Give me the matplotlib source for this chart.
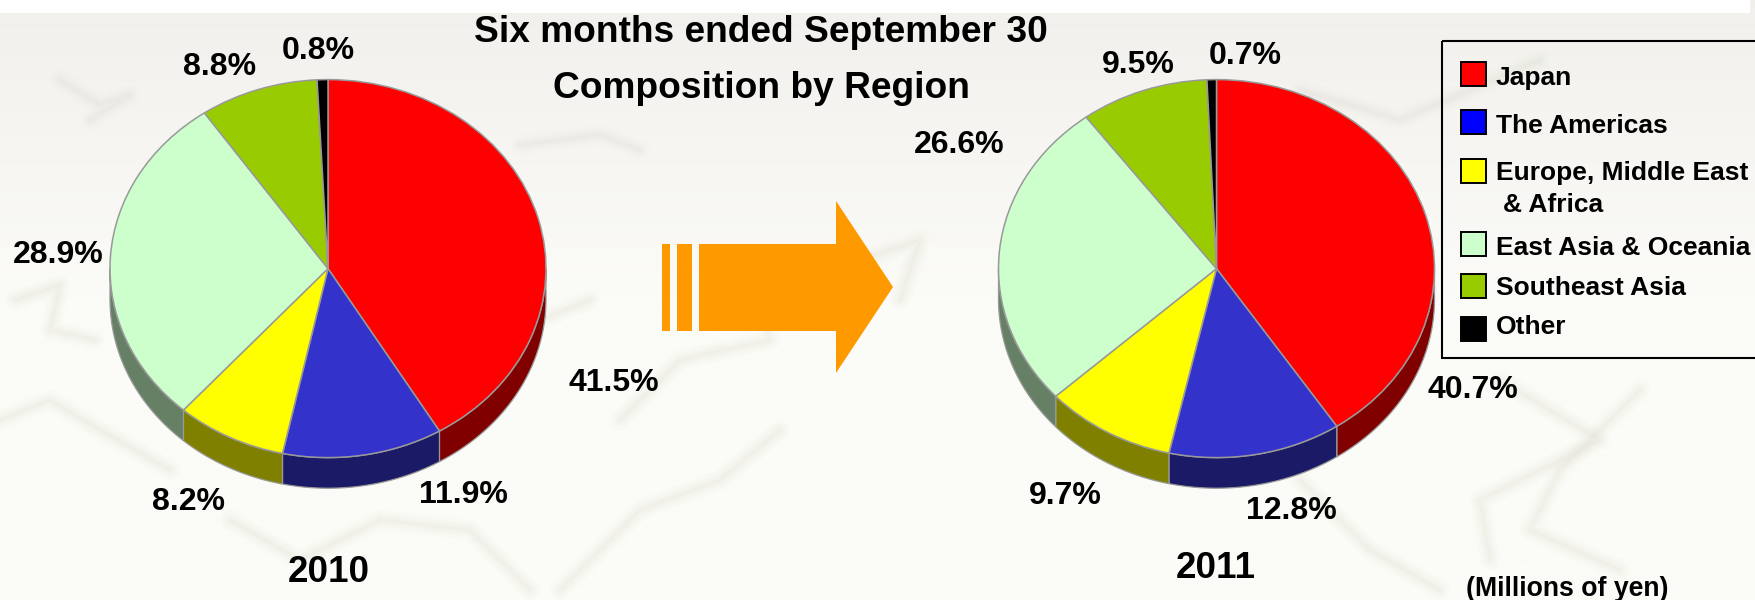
import numpy as np
import matplotlib
matplotlib.use("Agg")
import matplotlib.pyplot as plt
from matplotlib.patches import Rectangle, Polygon

plt.rcParams['font.family'] = ['Liberation Sans', 'DejaVu Sans']
plt.rcParams['font.weight'] = 'bold'

# ---- data ----
regions = ["Japan", "The Americas", "Europe, Middle East\n& Africa",
           "East Asia & Oceania", "Southeast Asia", "Other"]
share_2010 = [41.5, 11.9, 8.2, 28.9, 8.8, 0.8]
share_2011 = [40.7, 12.8, 9.7, 26.6, 9.5, 0.7]
years = ["2010", "2011"]
title_lines = ["Six months ended September 30", "Composition by Region"]
unit_note = "(Millions of yen)"

# ---- styles ----
top_colors = ["#ff0000", "#3333cc", "#ffff00", "#ccffcc", "#99cc00", "#000000"]
side_colors = ["#800000", "#1a1a66", "#808000", "#668066", "#4d6600", "#000000"]
legend_colors = ["#ff0000", "#0000ff", "#ffff00", "#ccffcc", "#99cc00", "#000000"]
W, H = 1755, 600
fig = plt.figure(figsize=(W / 100, H / 100), dpi=100, facecolor="white")

# ---- background ----
bg = fig.add_axes([0, 0, 1, 1], zorder=0)
bg.set_xlim(0, W); bg.set_ylim(H, 0); bg.axis("off")
ramp = np.linspace(0, 1, 256).reshape(-1, 1)
c0 = np.array([0xf2, 0xf0, 0xec]) / 255
c1 = np.array([0xfb, 0xfb, 0xf7]) / 255
img = c0 + (c1 - c0) * np.clip(ramp * 2.0, 0, 1)[..., None]
bg.imshow(img, extent=[0, W, H, 0], aspect="auto", zorder=0)
bg.add_patch(Rectangle((0, 0), 1750, 13, fc="white", ec="none", zorder=1))

map_strokes = [
    [(60, 80), (100, 105), (130, 95), (90, 120)],
    [(15, 300), (60, 285), (50, 330), (95, 340)],
    [(0, 420), (50, 400), (100, 430), (170, 470)],
    [(520, 145), (600, 135), (640, 150)],
    [(500, 350), (540, 320), (590, 300)],
    [(620, 420), (680, 360), (770, 340), (760, 300)],
    [(230, 520), (300, 560), (380, 520), (470, 530), (530, 590)],
    [(560, 590), (640, 510), (720, 480), (780, 430)],
    [(860, 260), (920, 240), (900, 300)],
    [(1300, 90), (1400, 120), (1540, 60)],
    [(1500, 380), (1600, 440), (1480, 500), (1490, 560)],
    [(1300, 480), (1370, 550), (1440, 590)],
    [(1640, 390), (1560, 470), (1530, 530), (1620, 570)],
]
for stroke in map_strokes:
    xs, ys = zip(*stroke)
    for lw, a in [(14, 0.05), (9, 0.07), (5, 0.08), (2, 0.08)]:
        bg.plot(xs, ys, color="#d4d4c6", lw=lw, alpha=a, solid_capstyle="round",
                solid_joinstyle="round", zorder=2)
bg.set_xlim(0, W); bg.set_ylim(H, 0)

# ---- pies ----
rx, ry = 218, 189
depth = 0.162
pad = 1.05
ylow = 1.3


def draw_pie(values, cx, cy):
    left = (cx - rx * pad) / W
    bottom = 1 - (cy + ry * ylow) / H
    ax = fig.add_axes([left, bottom, 2 * rx * pad / W, ry * (pad + ylow) / H], zorder=1)
    wedges, _ = ax.pie(values, colors=top_colors, startangle=90, counterclock=False,
                       radius=1.0, wedgeprops=dict(edgecolor="#999999", linewidth=1.1, zorder=3))
    ax.set_aspect("auto")
    ax.set_xlim(-pad, pad)
    ax.set_ylim(-ylow, pad)
    ax.axis("off")
    for w, col in zip(wedges, side_colors):
        # visible rim = the part of each wedge in the lower half of the ellipse
        a, b = max(w.theta1, -180), min(w.theta2, 0)
        if b <= a:
            continue
        t = np.radians(np.linspace(a, b, 80))
        upper = np.c_[np.cos(t), np.sin(t)]
        lower = np.c_[np.cos(t[::-1]), np.sin(t[::-1]) - depth]
        ax.add_patch(Polygon(np.r_[upper, lower], closed=True, fc=col,
                             ec="#999999", lw=0.9, zorder=2))
    return ax


draw_pie(share_2010, 328, 268.6)
draw_pie(share_2011, 1216.5, 268.6)

# ---- overlay ----
ov = fig.add_axes([0, 0, 1, 1], zorder=2)
ov.set_xlim(0, W); ov.set_ylim(H, 0); ov.axis("off"); ov.patch.set_alpha(0)

for y, line in zip([32, 88], title_lines):
    ov.text(761, y, line, fontsize=26.7, ha="center", va="center", color="black")

pos_2010 = [(614, 383), (463, 495), (189, 502), (58, 255), (220, 67), (318, 51)]
pos_2011 = [(1473, 390), (1291, 511), (1065, 496), (959, 145), (1138, 65), (1245, 56)]
for vals, poss in [(share_2010, pos_2010), (share_2011, pos_2011)]:
    for v, (x, y) in zip(vals, poss):
        ov.text(x, y, f"{v:.1f}%", fontsize=23, ha="center", va="center", color="black")

ov.text(329, 573, years[0], fontsize=26.5, ha="center", va="center")
ov.text(1216, 569, years[1], fontsize=26.5, ha="center", va="center")
ov.text(1567, 589, unit_note, fontsize=19.2, ha="center", va="center")

# arrow
orange = "#ff9900"
for x0, x1 in [(662, 670), (677, 692)]:
    ov.add_patch(Rectangle((x0, 244), x1 - x0, 87, fc=orange, ec="none"))
ov.add_patch(Polygon([(699, 244), (836, 244), (836, 201), (893, 287),
                      (836, 373), (836, 331), (699, 331)], closed=True, fc=orange, ec="none"))

# legend
ov.add_patch(Rectangle((1442, 41), 330, 317, fc="none", ec="black", lw=1.5, clip_on=True))
swatch_y = [62, 110, 159, 232, 274, 317]
text_y = [78, 126, 173, 248, 288, 327]
for name, col, sy, ty in zip(regions, legend_colors, swatch_y, text_y):
    ov.add_patch(Rectangle((1461, sy), 25, 24, fc=col, ec="black", lw=1.4))
    if "\n" in name:
        first, second = name.split("\n")
        ov.text(1496, ty, first, fontsize=19, ha="left", va="center")
        ov.text(1503, ty + 32, second, fontsize=19, ha="left", va="center")
    else:
        ov.text(1496, ty, name, fontsize=19, ha="left", va="center")

fig.savefig("out.png", dpi=100, facecolor="white")
